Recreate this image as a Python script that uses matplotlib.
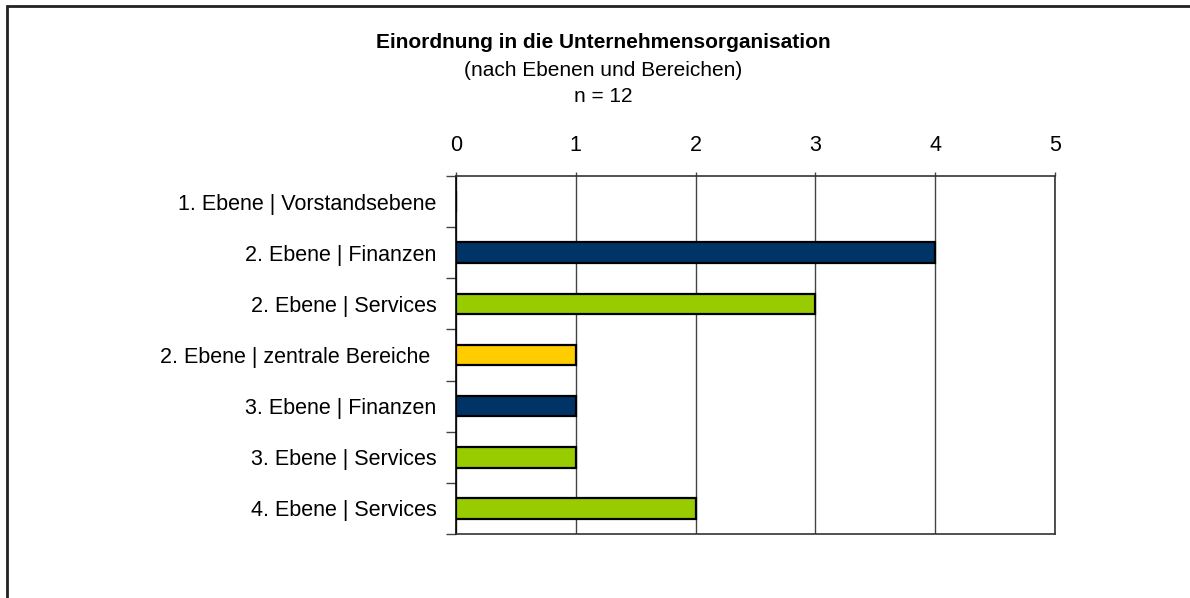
import matplotlib.pyplot as plt
from matplotlib.patches import Rectangle
from matplotlib.ticker import MultipleLocator

plt.rcParams['font.family'] = ['Liberation Sans', 'DejaVu Sans']

# Kategorien von oben nach unten
categories = [
    '1. Ebene | Vorstandsebene',
    '2. Ebene | Finanzen',
    '2. Ebene | Services',
    '2. Ebene | zentrale Bereiche ',
    '3. Ebene | Finanzen',
    '3. Ebene | Services',
    '4. Ebene | Services',
]
counts = [0, 4, 3, 1, 1, 1, 2]
bar_colors = ['#003366', '#003366', '#99cc00', '#ffcc00', '#003366', '#99cc00', '#99cc00']

x_max = 5

fig = plt.figure(figsize=(11.9, 5.98), dpi=100)

# Rahmen um das Diagramm
fig.patches.append(Rectangle((7 / 1190, -0.1), 1.2, (598 - 6) / 598 + 0.1,
                             transform=fig.transFigure, fill=False,
                             edgecolor='#222222', linewidth=2))

ax = fig.add_axes([456 / 1190, 1 - 534 / 598, (1055 - 456) / 1190, (534 - 176) / 598])

ypos = list(range(len(categories)))
ax.barh(ypos, counts, height=0.4, color=bar_colors, edgecolor='black',
        linewidth=1.6, zorder=3)

ax.set_xlim(0, x_max)
ax.set_ylim(len(categories) - 0.5, -0.5)

ax.xaxis.set_major_locator(MultipleLocator(1))
ax.xaxis.tick_top()
ax.tick_params(axis='x', direction='out', length=3, width=1, color='#444444',
               labelsize=15.5, pad=11.5)
ax.grid(axis='x', color='#444444', linewidth=1, zorder=1)

# Trennstriche zwischen den Kategorien
ax.set_yticks(ypos)
ax.set_yticklabels(categories, fontsize=15.5)
ax.set_yticks([y - 0.5 for y in range(len(categories) + 1)], minor=True)
ax.tick_params(axis='y', which='major', length=0, pad=14)
ax.tick_params(axis='y', which='minor', direction='out', length=7, width=1,
               color='#444444')

for side in ['top', 'bottom', 'left', 'right']:
    ax.spines[side].set_color('#333333')
    ax.spines[side].set_linewidth(1.2)
ax.spines['left'].set_color('black')

fig.text(603 / 1190, 1 - 42 / 598, 'Einordnung in die Unternehmensorganisation',
         ha='center', va='center', fontsize=15, fontweight='bold')
fig.text(603 / 1190, 1 - 70 / 598, '(nach Ebenen und Bereichen)',
         ha='center', va='center', fontsize=15)
fig.text(603 / 1190, 1 - 97 / 598, 'n = 12',
         ha='center', va='center', fontsize=15)

fig.savefig('out.png', dpi=100, facecolor='white')
